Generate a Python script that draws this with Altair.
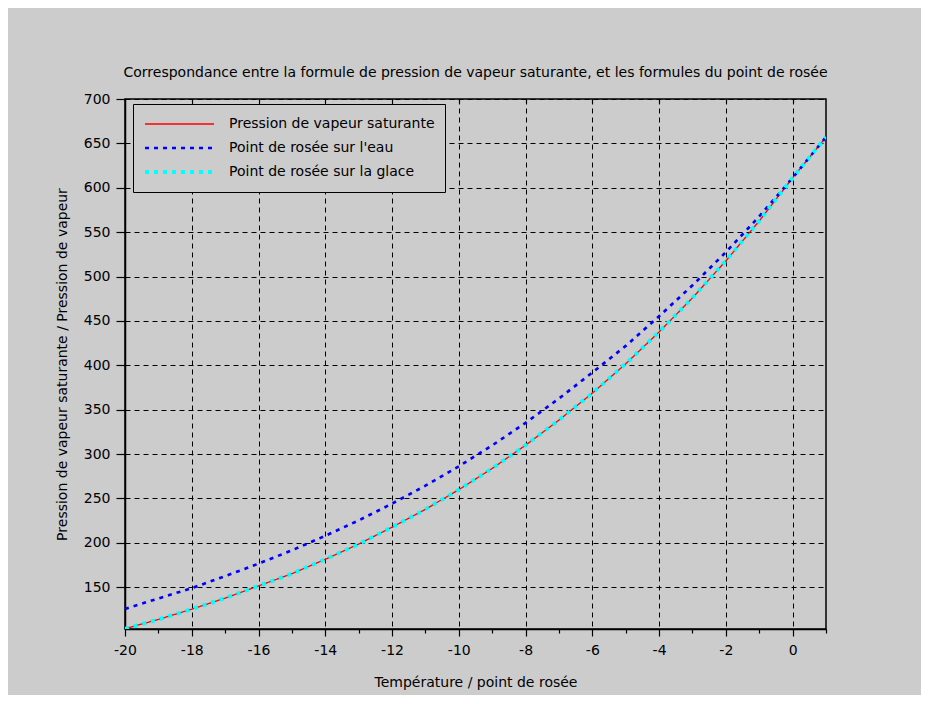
import altair as alt
import pandas as pd

# Temperature (°C)
temps = list(range(-20, 2))

# Pression de vapeur saturante (red, solid)
p_sat = [103.3, 113.8, 125.3, 137.8, 151.5, 165.3, 181.5, 198.7, 217.7, 237.8,
         259.9, 283.9, 310.0, 338.3, 368.7, 401.7, 437.6, 476.0, 517.7, 562.6,
         611.2, 657.1]
# Point de rosée sur l'eau (blue, dotted)
p_eau = [125.6, 137.4, 149.0, 162.6, 176.6, 191.6, 208.0, 225.3, 244.2, 264.4,
         286.3, 309.8, 335.2, 362.6, 391.9, 421.9, 455.3, 490.1, 527.5, 567.7,
         611.2, 657.1]
# Point de rosée sur la glace (cyan, dotted)
p_glace = [103.3, 113.8, 125.3, 137.8, 151.5, 165.3, 181.5, 198.7, 217.7, 237.8,
           259.9, 283.9, 310.0, 338.3, 368.7, 401.7, 437.6, 476.0, 517.7, 562.6,
           611.2, 657.1]

names = ["Pression de vapeur saturante", "Point de rosée sur l'eau",
         "Point de rosée sur la glace"]
colors = ["#ff0000", "#0000ff", "#00ffff"]
y_ticks = list(range(150, 701, 50))
top_ticks = list(range(-18, 1, 2))

rows = []
for name, vals in zip(names, [p_sat, p_eau, p_glace]):
    for t, v in zip(temps, vals):
        rows.append({"T": t, "P": v, "serie": name})
df = pd.DataFrame(rows)

FONT = "DejaVu Sans"
BG = "#cccccc"

x_scale = alt.Scale(domain=[-20, 1], nice=False, zero=False)
y_scale = alt.Scale(domain=[103, 700], nice=False, zero=False)

legend = alt.Legend(
    title=None, orient="none", legendX=8, legendY=5,
    fillColor=BG, strokeColor="black", padding=10,
    symbolType="stroke", symbolSize=4761, labelOffset=13,
    labelFont=FONT, labelFontSize=14, labelColor="black",
    clipHeight=20, rowPadding=4, labelLimit=400,
)

x_axis = alt.Axis(
    values=temps,
    labelExpr="datum.value % 2 === 0 ? '' + datum.value : ''",
    grid=True, gridColor="black", gridDash=[5, 4], gridWidth=1,
    gridOpacity={"condition": {"test": "datum.value % 2 === 0 && datum.value > -20 && datum.value < 1", "value": 1}, "value": 0},
    tickSize={"condition": {"test": "datum.value % 2 === 0", "value": 7}, "value": 4},
    tickColor="black", tickWidth=1.2, domainColor="black", domainWidth=1.5,
    labelFont=FONT, labelFontSize=14, labelColor="black", labelPadding=7,
    labelFlush=False,
    title="Température / point de rosée", titleFont=FONT, titleFontSize=14,
    titleFontWeight="normal", titleColor="black", titlePadding=18,
)

top_axis = alt.Axis(
    orient="top", values=top_ticks, labels=False, domain=False, grid=False,
    tickSize=4, offset=-4, tickColor="black", tickWidth=1.2, title=None,
)

y_axis = alt.Axis(
    values=y_ticks,
    grid=True, gridColor="black", gridDash=[5, 4], gridWidth=1, gridOpacity=1,
    tickSize=9, tickColor="black", tickWidth=1.2, domainColor="black", domainWidth=1.5,
    labelFont=FONT, labelFontSize=14, labelColor="black", labelPadding=6,
    labelFlush=False,
    title="Pression de vapeur saturante / Pression de vapeur", titleFont=FONT,
    titleFontSize=14, titleFontWeight="normal", titleColor="black", titlePadding=14,
)

lines = alt.Chart(df).mark_line(clip=True).encode(
    x=alt.X("T:Q", scale=x_scale, axis=x_axis),
    y=alt.Y("P:Q", scale=y_scale, axis=y_axis),
    color=alt.Color("serie:N", scale=alt.Scale(domain=names, range=colors), legend=legend),
    strokeDash=alt.StrokeDash("serie:N", scale=alt.Scale(domain=names, range=[[1, 0], [4, 5], [4, 5]]), legend=legend),
    strokeWidth=alt.StrokeWidth("serie:N", scale=alt.Scale(domain=names, range=[1.3, 4, 4]), legend=legend),
)

top_ticks_layer = alt.Chart(df).mark_point(opacity=0).encode(
    x=alt.X("T:Q", scale=x_scale, axis=top_axis),
)

chart = alt.layer(lines, top_ticks_layer).resolve_axis(x="independent").properties(
    width=701, height=530,
    title=alt.Title(
        "Correspondance entre la formule de pression de vapeur saturante, et les formules du point de rosée",
        font=FONT, fontSize=14, fontWeight="normal", color="black", anchor="middle", offset=12,
    ),
    autosize=alt.AutoSizeParams(type="none"),
    padding={"left": 117, "top": 91, "right": 95, "bottom": 66},
    background=BG,
).configure_view(stroke="black", strokeWidth=1.5, fill=BG)

chart.save("out.html", embed_options={"renderer": "svg", "actions": False})
